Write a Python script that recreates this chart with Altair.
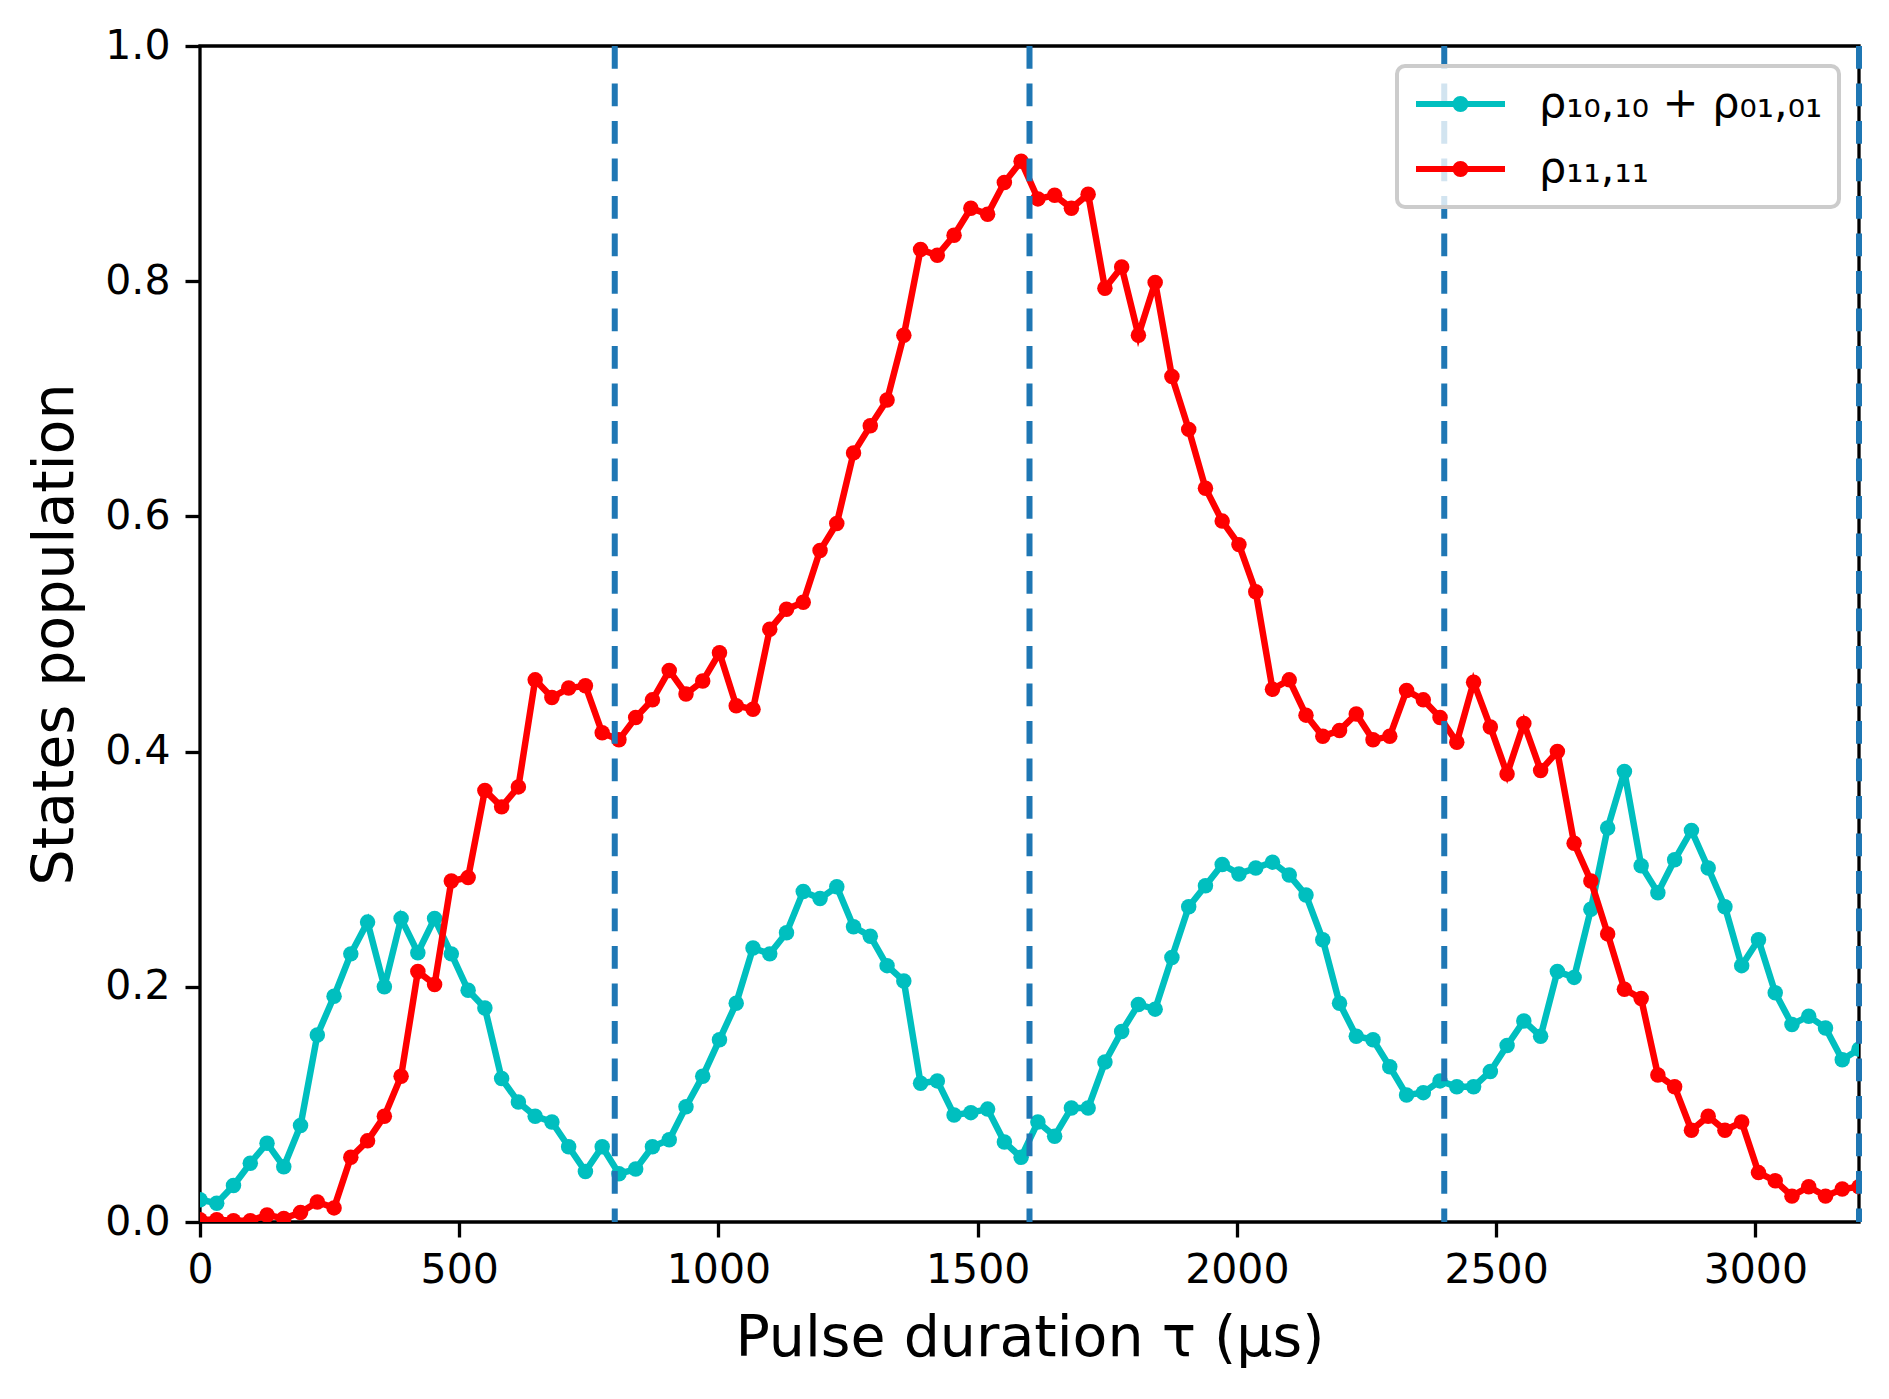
import altair as alt
import pandas as pd

# sample grid (pulse durations, µs)
tau = [
    0.0, 32.3, 64.6, 97.0, 129.3, 161.6, 193.9, 226.3, 258.6, 290.9,
    323.2, 355.6, 387.9, 420.2, 452.5, 484.8, 517.2, 549.5, 581.8, 614.1,
    646.5, 678.8, 711.1, 743.4, 775.8, 808.1, 840.4, 872.7, 905.1, 937.4,
    969.7, 1002.0, 1034.3, 1066.7, 1099.0, 1131.3, 1163.6, 1196.0, 1228.3, 1260.6,
    1292.9, 1325.3, 1357.6, 1389.9, 1422.2, 1454.5, 1486.9, 1519.2, 1551.5, 1583.8,
    1616.2, 1648.5, 1680.8, 1713.1, 1745.5, 1777.8, 1810.1, 1842.4, 1874.7, 1907.1,
    1939.4, 1971.7, 2004.0, 2036.4, 2068.7, 2101.0, 2133.3, 2165.7, 2198.0, 2230.3,
    2262.6, 2294.9, 2327.3, 2359.6, 2391.9, 2424.2, 2456.6, 2488.9, 2521.2, 2553.5,
    2585.9, 2618.2, 2650.5, 2682.8, 2715.2, 2747.5, 2779.8, 2812.1, 2844.4, 2876.8,
    2909.1, 2941.4, 2973.7, 3006.1, 3038.4, 3070.7, 3103.0, 3135.4, 3167.7, 3200.0,
]

# rho_10,10 + rho_01,01 (cyan)
rho_single = [
    0.019, 0.016, 0.031, 0.050, 0.067, 0.047, 0.082, 0.159, 0.192, 0.228,
    0.255, 0.200, 0.258, 0.229, 0.258, 0.228, 0.197, 0.182, 0.122, 0.102,
    0.090, 0.085, 0.064, 0.043, 0.064, 0.041, 0.045, 0.064, 0.070, 0.098,
    0.124, 0.155, 0.186, 0.233, 0.228, 0.246, 0.281, 0.275, 0.285, 0.251,
    0.243, 0.218, 0.205, 0.118, 0.120, 0.091, 0.093, 0.096, 0.068, 0.055,
    0.085, 0.073, 0.097, 0.097, 0.136, 0.162, 0.185, 0.181, 0.225, 0.268,
    0.286, 0.304, 0.296, 0.301, 0.306, 0.295, 0.278, 0.240, 0.186, 0.158,
    0.155, 0.132, 0.108, 0.110, 0.120, 0.115, 0.115, 0.128, 0.150, 0.171,
    0.158, 0.213, 0.208, 0.266, 0.335, 0.383, 0.303, 0.280, 0.308, 0.333,
    0.301, 0.268, 0.218, 0.240, 0.195, 0.168, 0.175, 0.165, 0.138, 0.147,
]

# rho_11,11 (red)
rho_double = [
    0.002, 0.002, 0.001, 0.001, 0.006, 0.003, 0.008, 0.017, 0.012, 0.055,
    0.069, 0.090, 0.124, 0.213, 0.202, 0.290, 0.293, 0.367, 0.353, 0.370,
    0.461, 0.446, 0.454, 0.456, 0.416, 0.410, 0.429, 0.444, 0.469, 0.449,
    0.460, 0.484, 0.439, 0.436, 0.504, 0.521, 0.527, 0.571, 0.594, 0.654,
    0.677, 0.699, 0.754, 0.827, 0.822, 0.839, 0.862, 0.857, 0.884, 0.902,
    0.870, 0.873, 0.862, 0.874, 0.794, 0.812, 0.754, 0.799, 0.719, 0.674,
    0.624, 0.596, 0.576, 0.536, 0.453, 0.461, 0.431, 0.413, 0.418, 0.432,
    0.410, 0.413, 0.452, 0.444, 0.429, 0.408, 0.459, 0.421, 0.381, 0.424,
    0.384, 0.400, 0.322, 0.290, 0.245, 0.198, 0.190, 0.125, 0.115, 0.078,
    0.090, 0.078, 0.085, 0.042, 0.035, 0.022, 0.030, 0.022, 0.028, 0.030,
]

marker_lines = [800, 1600, 2400, 3200]
x_ticks = [0, 500, 1000, 1500, 2000, 2500, 3000]
y_ticks = [0.0, 0.2, 0.4, 0.6, 0.8, 1.0]

LABEL_C = "ρ₁₀,₁₀ + ρ₀₁,₀₁"
LABEL_R = "ρ₁₁,₁₁"
COLORS = ["#00bfbf", "#ff0000"]

df_c = pd.DataFrame({"tau": tau, "value": rho_single, "series": LABEL_C})
df_r = pd.DataFrame({"tau": tau, "value": rho_double, "series": LABEL_R})
df_v = pd.DataFrame({"tau": marker_lines})

FONT = "DejaVu Sans"

x_enc = alt.X(
    "tau:Q",
    scale=alt.Scale(domain=[0, 3200], nice=False, zero=False),
    axis=alt.Axis(
        values=x_ticks, format="d", title="Pulse duration τ (μs)",
        labelBaseline="alphabetic", labelPadding=45, labelFlush=False,
        titleY=133, titleBaseline="alphabetic",
    ),
)
y_enc = alt.Y(
    "value:Q",
    scale=alt.Scale(domain=[0, 1], nice=False),
    axis=alt.Axis(
        values=y_ticks, format=".1f", title="States population",
        labelBaseline="middle", labelPadding=15, labelFlush=False,
        titleX=-128, titleY=588, titleAngle=270, titleAlign="center",
        titleBaseline="alphabetic",
    ),
)

SYMBOL = (
    "M-1,0L3.684,0"
    "M1.605,0A0.263,0.263,0,1,1,1.079,0A0.263,0.263,0,1,1,1.605,0"
    "M1.447,0A0.105,0.105,0,1,1,1.237,0A0.105,0.105,0,1,1,1.447,0"
)

color_enc = alt.Color(
    "series:N",
    scale=alt.Scale(domain=[LABEL_C, LABEL_R], range=COLORS),
    sort=[LABEL_C, LABEL_R],
    legend=alt.Legend(
        title=None, orient="top-right", offset=20,
        labelFont=FONT, labelFontSize=43, labelColor="black", labelLimit=600,
        labelOffset=82,
        symbolType=SYMBOL, symbolSize=1444, symbolStrokeWidth=6,
        symbolOpacity=1,
    ),
)


def series_layers(df):
    base = alt.Chart(df).encode(x=x_enc, y=y_enc, color=color_enc)
    line = base.mark_line(strokeWidth=6.5, clip=True)
    pts = base.mark_point(filled=True, size=240, opacity=1, clip=True)
    return [line, pts]


rules = alt.Chart(df_v).mark_rule(
    color="#1f77b4", strokeWidth=6, strokeDash=[22.7, 14.8]
).encode(x=alt.X("tau:Q"))

chart = alt.layer(
    *series_layers(df_c), *series_layers(df_r), rules
).properties(
    width=1659, height=1176,
    padding={"left": 192, "top": 38, "right": 20, "bottom": 170},
    autosize=alt.AutoSizeParams(type="none"),
).configure_view(
    stroke="black", strokeWidth=3.3
).configure_axis(
    grid=False, domain=False,
    tickColor="black", tickWidth=3.3, tickSize=15,
    labelColor="black", labelFont=FONT, labelFontSize=41,
    titleFont=FONT, titleFontSize=57, titleFontWeight="normal", titleColor="black",
).configure_legend(
    padding=16, cornerRadius=8, rowPadding=21,
    strokeColor="#cccccc", strokeWidth=4,
    fillColor="rgba(255,255,255,0.8)",
)

chart.save("out.html", embed_options={"renderer": "svg", "actions": False})
